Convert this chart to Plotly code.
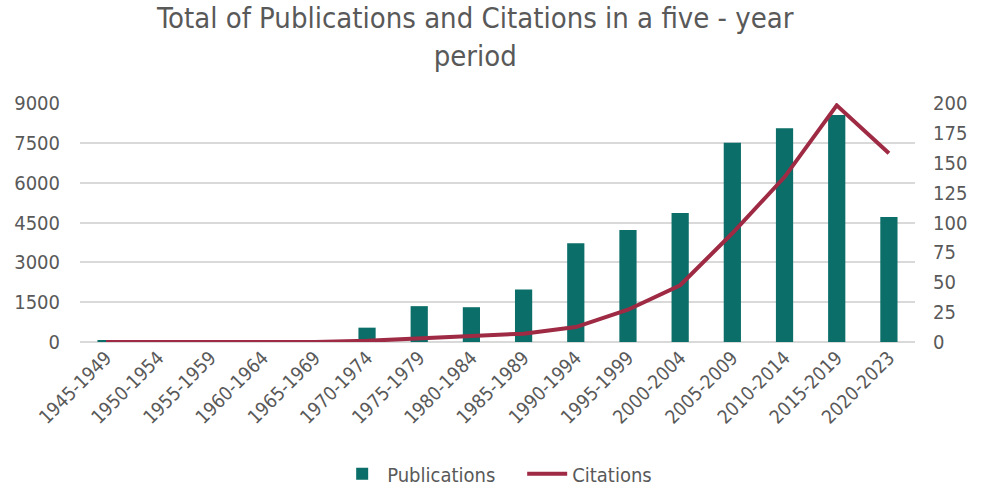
import plotly.graph_objects as go

periods = ["1945-1949", "1950-1954", "1955-1959", "1960-1964", "1965-1969",
           "1970-1974", "1975-1979", "1980-1984", "1985-1989", "1990-1994",
           "1995-1999", "2000-2004", "2005-2009", "2010-2014", "2015-2019",
           "2020-2023"]
publications = [40, 0, 0, 0, 0, 540, 1350, 1310, 1980, 3720, 4220, 4860, 7500, 8050, 8550, 4710]
citations = [0, 0, 0, 0, 0, 1, 3, 4.5, 7, 12.5, 27, 47.5, 91, 138, 198, 158]

FONT = "DejaVu Sans Condensed, DejaVu Sans, sans-serif"
GREY = "#595959"

fig = go.Figure()
fig.add_trace(go.Bar(x=periods, y=publications, name="Publications",
                     marker=dict(color="#0B6E69", line=dict(width=0)), yaxis="y"))
fig.add_trace(go.Scatter(x=periods, y=citations, name="Citations", mode="lines",
                         line=dict(color="#9E2A44", width=4), yaxis="y2"))

fig.add_annotation(text="Total of Publications and Citations in a five - year<br>period",
                   xref="paper", yref="paper", x=0.473, y=1.275,
                   xanchor="center", yanchor="middle", showarrow=False,
                   font=dict(size=29, color=GREY, family=FONT))

fig.update_layout(
    width=982, height=486,
    margin=dict(l=80, r=67, t=103, b=144, autoexpand=False),
    paper_bgcolor="white", plot_bgcolor="white",
    font=dict(family=FONT, color=GREY, size=20),
    bargap=0.67,
    showlegend=True,
    legend=dict(orientation="h", x=0.308, xanchor="left", yref="container", y=0.025,
                yanchor="middle", font=dict(size=20, color=GREY), itemwidth=40,
                entrywidth=130, entrywidthmode="pixels"),
    xaxis=dict(tickangle=-45, showgrid=False, showline=False, ticks="", automargin=False,
               tickfont=dict(size=19, color=GREY)),
    yaxis=dict(range=[0, 9000], dtick=1500, showgrid=True, gridcolor="#D9D9D9",
               gridwidth=1.5, zeroline=True, zerolinecolor="#D9D9D9", zerolinewidth=1.5,
               automargin=False, ticklabelstandoff=19, tickfont=dict(size=20, color=GREY)),
    yaxis2=dict(range=[0, 200], dtick=25, overlaying="y", side="right", showgrid=False,
                zeroline=False, automargin=False, ticklabelstandoff=17,
                tickfont=dict(size=20, color=GREY)),
)

fig.write_html("out.html")
